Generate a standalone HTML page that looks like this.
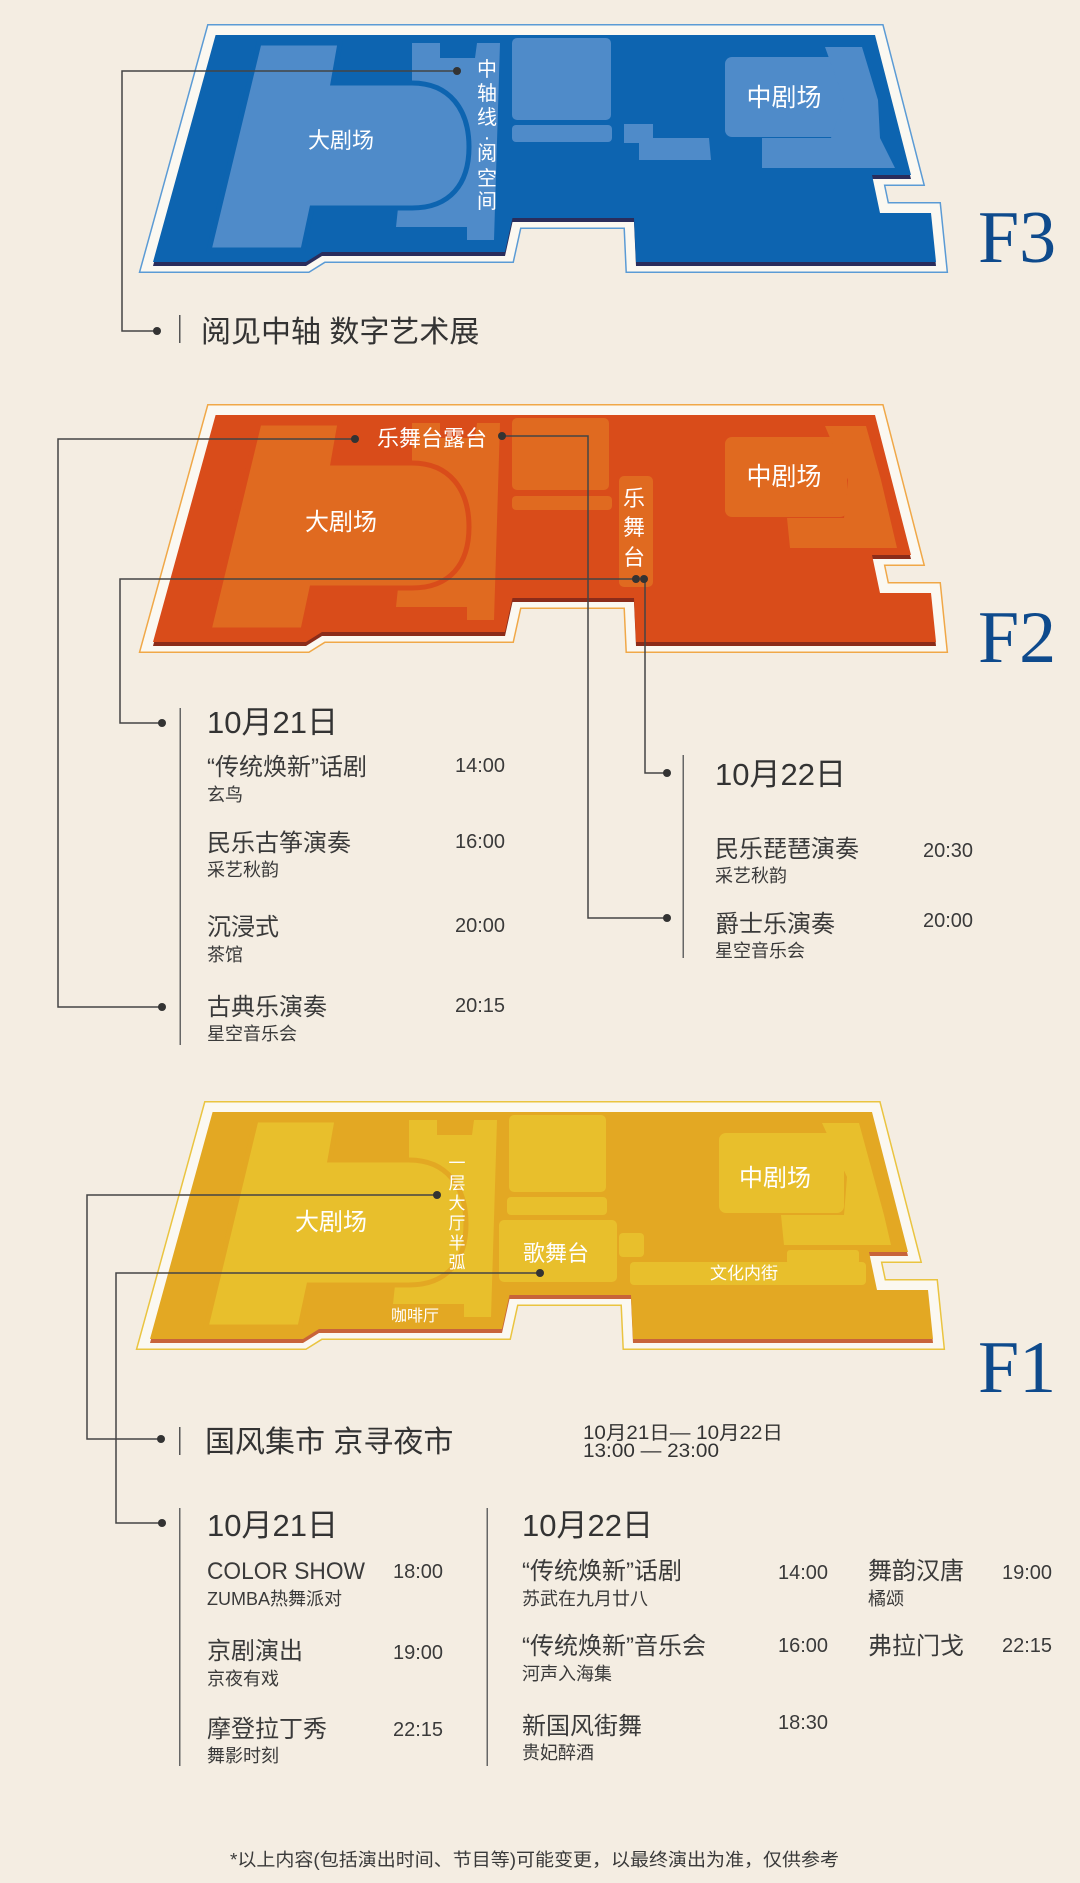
<!DOCTYPE html>
<html><head><meta charset="utf-8"><style>
html,body{margin:0;padding:0;background:#f4ede2;}
svg{display:block}
text{font-family:"Liberation Sans","Noto Sans CJK SC",sans-serif;}
.t{fill:#3a3a3a;font-size:24px}
.s{fill:#3a3a3a;font-size:18px}
.tm{fill:#3a3a3a;font-size:20px}
.d{fill:#333;font-size:31px}
.w{fill:#fff}
.F{font-family:"Liberation Serif",serif;fill:#0e4a8c;font-size:74px}
</style></head><body>
<svg width="1080" height="1883" viewBox="0 0 1080 1883" xmlns="http://www.w3.org/2000/svg">
<defs>
<path id="fl" d="M215.6,35 L875,35 L911,175 L872,175 L880,213 L931,213 L936,262 L636,262 L634,218 L512.5,218 L505,252 L322,252 L306,262 L153,262 Z"/>
<path id="th" d="M259,43 L340,43 L333,83 L412,83 C450,83 469,110 469,147 C469,184 450,208 412,208 L312,208 L303,250 L209,250 Z"/>
<path id="lb" d="M412,43 L440,43 L440,58 L475,58 L477,43 L500,43 L494,240 L467,240 L467,227 L396,227 L398,208 L412,208 Z"/>
</defs>
<rect width="1080" height="1883" fill="#f4ede2"/>

<!-- F3 -->
<g>
<use href="#fl" fill="none" stroke="#5b9bd5" stroke-width="22" stroke-linejoin="miter"/>
<use href="#fl" fill="none" stroke="#fbf8f1" stroke-width="19" stroke-linejoin="miter"/>
<use href="#fl" fill="#2a2d5c" transform="translate(0,4)"/>
<use href="#fl" fill="#0d64b0"/>
<g fill="#4f8bc9">
<use href="#lb"/>
<use href="#th" stroke="#0d64b0" stroke-width="5"/>
<rect x="512" y="38" width="99" height="82" rx="5"/>
<rect x="512" y="125" width="100" height="17" rx="4"/>
<path d="M624,124 L653,124 L653,138 L709,138 L711,160 L639,160 L639,143 L624,143 Z"/>
<rect x="725" y="57" width="119" height="80" rx="7"/>
<path d="M825,47 L862,47 L878,100 L880,138 L895,168 L762,168 L762,138 L831,138 L844,100 Z"/>
</g>
<text class="w" x="341" y="148" font-size="22" text-anchor="middle">大剧场</text>
<text class="w" x="784" y="106" font-size="25" text-anchor="middle">中剧场</text>
<g class="w" font-size="20" text-anchor="middle">
<text x="487" y="76">中</text><text x="487" y="100">轴</text><text x="487" y="124">线</text><text x="487" y="144">·</text><text x="487" y="160">阅</text><text x="487" y="185">空</text><text x="487" y="208">间</text>
</g>
<text class="F" x="978" y="262">F3</text>
</g>
<g stroke="#444" stroke-width="1.5" fill="none">
<polyline points="457,71 122,71 122,331 157,331"/>
</g>
<circle cx="457" cy="71" r="4" fill="#333"/><circle cx="157" cy="331" r="4" fill="#333"/>
<rect x="179" y="315" width="1.5" height="28" fill="#555"/>
<text x="201" y="342" fill="#333" font-size="30">阅见中轴 数字艺术展</text>

<!-- F2 -->
<g transform="translate(0,380)">
<use href="#fl" fill="none" stroke="#f0a848" stroke-width="22" stroke-linejoin="miter"/>
<use href="#fl" fill="none" stroke="#fbf8f1" stroke-width="19" stroke-linejoin="miter"/>
<use href="#fl" fill="#8b2c1a" transform="translate(0,4)"/>
<use href="#fl" fill="#d94c1a"/>
<g fill="#e06a20">
<use href="#lb"/>
<use href="#th" stroke="#d94c1a" stroke-width="5"/>
<rect x="512" y="38" width="97" height="72" rx="5"/>
<rect x="512" y="116" width="100" height="14" rx="4"/>
<rect x="619" y="96" width="34" height="111" rx="5"/>
<rect x="725" y="57" width="122" height="80" rx="7"/>
<path d="M825,46 L866,46 L881,100 L897,168 L790,168 L787,138 L844,138 L848,100 Z"/>
</g>
</g>
<text class="w" x="341" y="530" font-size="24" text-anchor="middle">大剧场</text>
<text class="w" x="784" y="485" font-size="25" text-anchor="middle">中剧场</text>
<text class="w" x="432" y="446" font-size="22" text-anchor="middle">乐舞台露台</text>
<g class="w" font-size="22" text-anchor="middle"><text x="634" y="506">乐</text><text x="634" y="535">舞</text><text x="634" y="565">台</text></g>
<text class="F" x="978" y="662">F2</text>
<g stroke="#444" stroke-width="1.5" fill="none">
<polyline points="355,439 58,439 58,1007 162,1007"/>
<polyline points="502,436 588,436 588,918 667,918"/>
<polyline points="636,579 120,579 120,723 162,723"/>
<polyline points="644,579 645,579 645,773 667,773"/>
</g>
<g fill="#333">
<circle cx="355" cy="439" r="4"/><circle cx="502" cy="436" r="4"/><circle cx="636" cy="579" r="4"/><circle cx="644" cy="579" r="4"/>
<circle cx="162" cy="1007" r="4"/><circle cx="162" cy="723" r="4"/><circle cx="667" cy="918" r="4"/><circle cx="667" cy="773" r="4"/>
</g>
<rect x="179.5" y="708" width="1.5" height="337" fill="#666"/>
<rect x="682.5" y="755" width="1.5" height="203" fill="#666"/>
<text class="d" x="207" y="733">10月21日</text>
<text class="t" x="207" y="775">“传统焕新”话剧</text><text class="s" x="207" y="801">玄鸟</text><text class="tm" x="455" y="772">14:00</text>
<text class="t" x="207" y="851">民乐古筝演奏</text><text class="s" x="207" y="876">采艺秋韵</text><text class="tm" x="455" y="848">16:00</text>
<text class="t" x="207" y="935">沉浸式</text><text class="s" x="207" y="961">茶馆</text><text class="tm" x="455" y="932">20:00</text>
<text class="t" x="207" y="1015">古典乐演奏</text><text class="s" x="207" y="1040">星空音乐会</text><text class="tm" x="455" y="1012">20:15</text>
<text class="d" x="715" y="785">10月22日</text>
<text class="t" x="715" y="857">民乐琵琶演奏</text><text class="s" x="715" y="882">采艺秋韵</text><text class="tm" x="923" y="857">20:30</text>
<text class="t" x="715" y="932">爵士乐演奏</text><text class="s" x="715" y="957">星空音乐会</text><text class="tm" x="923" y="927">20:00</text>

<!-- F1 -->
<g transform="translate(-3,1077)">
<use href="#fl" fill="none" stroke="#eac440" stroke-width="22" stroke-linejoin="miter"/>
<use href="#fl" fill="none" stroke="#fbf8f1" stroke-width="19" stroke-linejoin="miter"/>
<use href="#fl" fill="#c8643a" transform="translate(0,4)"/>
<use href="#fl" fill="#e3a823"/>
<g fill="#e8bf2c">
<use href="#lb"/>
<use href="#th" stroke="#e3a823" stroke-width="5"/>
<rect x="512" y="38" width="97" height="77" rx="5"/>
<rect x="510" y="120" width="100" height="18" rx="4"/>
<rect x="502" y="143" width="118" height="62" rx="5"/>
<rect x="622" y="156" width="25" height="24" rx="4"/>
<rect x="633" y="185" width="236" height="23" rx="4"/>
<rect x="790" y="173" width="72" height="14" rx="3"/>
<rect x="722" y="56" width="125" height="80" rx="7"/>
<path d="M825,46 L862,46 L887,138 L894,168 L787,168 L784,138 L847,138 L850,100 Z"/>
</g>
</g>
<text class="w" x="331" y="1230" font-size="24" text-anchor="middle">大剧场</text>
<text class="w" x="775" y="1186" font-size="24" text-anchor="middle">中剧场</text>
<text class="w" x="556" y="1261" font-size="22" text-anchor="middle">歌舞台</text>
<text class="w" x="744" y="1279" font-size="17" text-anchor="middle">文化内街</text>
<text class="w" x="415" y="1321" font-size="16" text-anchor="middle">咖啡厅</text>
<g class="w" font-size="17" text-anchor="middle"><text x="457" y="1169">一</text><text x="457" y="1189">层</text><text x="457" y="1209">大</text><text x="457" y="1229">厅</text><text x="457" y="1249">半</text><text x="457" y="1268">弧</text></g>
<text class="F" x="978" y="1392">F1</text>
<g stroke="#444" stroke-width="1.5" fill="none">
<polyline points="437,1195 87,1195 87,1439 161,1439"/>
<polyline points="540,1273 116,1273 116,1523 162,1523"/>
</g>
<g fill="#333"><circle cx="437" cy="1195" r="4"/><circle cx="540" cy="1273" r="4"/><circle cx="161" cy="1439" r="4"/><circle cx="162" cy="1523" r="4"/></g>
<rect x="179" y="1427" width="1.5" height="28" fill="#555"/>
<text x="205" y="1452" fill="#333" font-size="30">国风集市 京寻夜市</text>
<text x="583" y="1439" fill="#333" font-size="19" textLength="200" lengthAdjust="spacingAndGlyphs">10月21日— 10月22日</text>
<text x="583" y="1457" fill="#333" font-size="19" textLength="136" lengthAdjust="spacingAndGlyphs">13:00 — 23:00</text>

<rect x="179" y="1508" width="1.5" height="258" fill="#666"/>
<rect x="486.5" y="1508" width="1.5" height="258" fill="#666"/>
<text class="d" x="207" y="1536">10月21日</text>
<text class="t" x="207" y="1579" font-size="26" textLength="158" lengthAdjust="spacingAndGlyphs">COLOR SHOW</text><text class="s" x="207" y="1605">ZUMBA热舞派对</text><text class="tm" x="393" y="1578">18:00</text>
<text class="t" x="207" y="1659">京剧演出</text><text class="s" x="207" y="1685">京夜有戏</text><text class="tm" x="393" y="1659">19:00</text>
<text class="t" x="207" y="1737">摩登拉丁秀</text><text class="s" x="207" y="1762">舞影时刻</text><text class="tm" x="393" y="1736">22:15</text>
<text class="d" x="522" y="1536">10月22日</text>
<text class="t" x="522" y="1579">“传统焕新”话剧</text><text class="s" x="522" y="1605">苏武在九月廿八</text><text class="tm" x="778" y="1579">14:00</text>
<text class="t" x="522" y="1654">“传统焕新”音乐会</text><text class="s" x="522" y="1680">河声入海集</text><text class="tm" x="778" y="1652">16:00</text>
<text class="t" x="522" y="1734">新国风街舞</text><text class="s" x="522" y="1759">贵妃醉酒</text><text class="tm" x="778" y="1729">18:30</text>
<text class="t" x="868" y="1579">舞韵汉唐</text><text class="s" x="868" y="1605">橘颂</text><text class="tm" x="1002" y="1579">19:00</text>
<text class="t" x="868" y="1654">弗拉门戈</text><text class="tm" x="1002" y="1652">22:15</text>

<text x="230" y="1866" fill="#3a3a3a" font-size="18" textLength="609" lengthAdjust="spacingAndGlyphs">*以上内容(包括演出时间、节目等)可能变更，以最终演出为准，仅供参考</text>
</svg>
</body></html>
